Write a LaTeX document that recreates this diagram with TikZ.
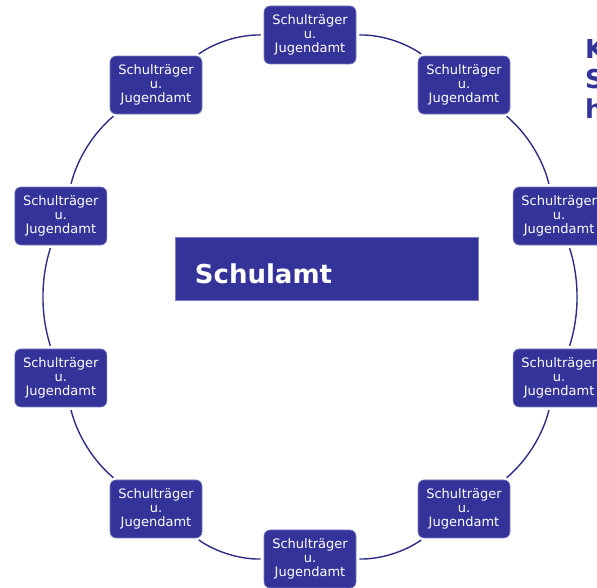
\documentclass[tikz,border=0pt]{standalone}
\usepackage{fontspec}
\setsansfont{DejaVu Sans}
\usetikzlibrary{positioning}

\begin{document}
\begin{tikzpicture}[x=1pt,y=1pt,font=\sffamily]
  \definecolor{amtblue}{RGB}{51,51,153}
  \definecolor{edgeblue}{RGB}{125,125,195}
  \definecolor{ringblue}{RGB}{45,45,135}
  \tikzset{
    traeger/.style={fill=amtblue, draw=edgeblue, line width=0.6pt, rounded corners=6pt,
      minimum width=92pt, minimum height=58pt, inner sep=0pt, align=center, text=white,
      font=\sffamily\fontsize{13}{14.2}\selectfont},
    ring/.style={ringblue, line width=1.4pt, shorten >=3pt, shorten <=3pt,
      bend left=18, looseness=0.87},
    titel/.style={anchor=base west, inner sep=0pt, text=amtblue,
      font=\sffamily\bfseries\fontsize{26}{30}\selectfont}
  }
  \useasboundingbox (0,0) rectangle (597,588);
  \coordinate (ctr) at (310,291);

  % ring of partners
  \foreach \i in {0,...,9} {
    \pgfmathsetmacro{\ang}{90-36*\i}
    \node[traeger] (tr\i) at ([shift={(\ang:262)}]ctr) {Schulträger\\u.\\Jugendamt};
  }
  \foreach \i [remember=\i as \last (initially 9)] in {0,...,9}
    \draw[ring] (tr\last) to (tr\i);

  % school office in the middle
  \node[fill=amtblue, draw=edgeblue, line width=0.6pt, minimum width=303pt,
    minimum height=63pt, inner sep=0pt] (amt) at (326.5,319.5) {};
  \node[anchor=base west, inner sep=0pt, text=white,
    font=\sffamily\bfseries\fontsize{26}{30}\selectfont]
    (amtname) at ([xshift=20,yshift=-15.5]amt.west) {Schulamt};

  % heading, cut at the right edge
  \node[titel] (titelk) at (585,529) {K};
  \node[titel] (titels) at (585,499) {S};
  \node[titel] (titelh) at (585,469) {h};
\end{tikzpicture}
\end{document}
